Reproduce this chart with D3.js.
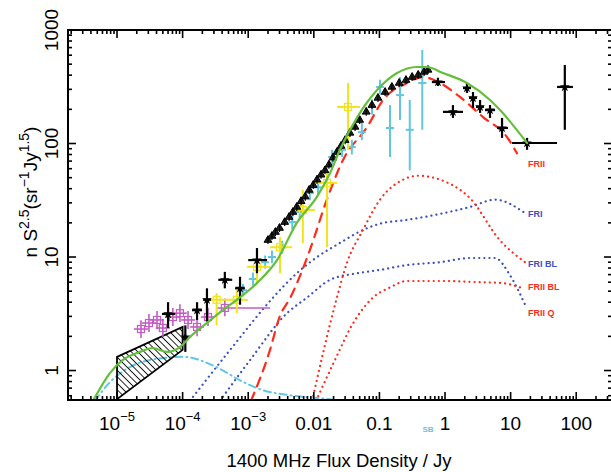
<!DOCTYPE html>
<html><head><meta charset="utf-8">
<script src="https://cdn.jsdelivr.net/npm/d3@7"></script>
<style>
html,body{margin:0;padding:0;background:#fff;}
svg{display:block;font-family:"Liberation Sans",Arial,sans-serif;}
</style></head><body>
<svg id="chart" width="611" height="472"></svg>
<script>
// ---- model curves: [flux density (Jy), n S^2.5] ----
const totalModel = [[4.3e-6,0.54],[7.8e-6,0.95],[1.23e-5,1.24],[2.24e-5,1.46],[3.5e-5,1.58],[5.8e-5,1.46],[9.1e-5,1.61],[1.29e-4,1.97],[2.3e-4,2.6],[4.1e-4,3.4],[6.7e-4,4.2],[1.36e-3,5.9],[2.75e-3,9.4],[5.5e-3,20],[0.0112,34],[0.0177,55],[0.025,88],[0.046,171],[0.092,296],[0.186,418],[0.374,472],[0.53,472],[0.93,418],[2.16,341],[4.85,242],[6.9,197],[17.8,101]];
const fr2Model = [[1.1e-3,0.54],[2.15e-3,1.52],[3.0e-3,2.96],[4.4e-3,4.4],[8.7e-3,11.5],[0.0158,32],[0.028,72],[0.065,140],[0.114,242],[0.263,341],[0.46,385],[0.84,341],[1.69,257],[3.8,171],[8.8,114],[12.5,82]];
const fr1Model = [[1.29e-4,0.54],[5.3e-4,1.52],[2.4e-3,4.4],[5.5e-3,7.2],[0.0112,10],[0.025,13.3],[0.056,17.3],[0.114,20],[0.229,21],[0.84,24],[2.4,27.6],[5.8,32],[16.6,24.4]];
const fr1BLModel = [[9.4e-3,0.54],[0.0225,4.4],[0.032,8.9],[0.056,17.3],[0.102,32],[0.229,48],[0.39,52],[0.84,48],[2.4,33],[6.9,14],[16.6,9.0]];
const fr2BLModel = [[0.0108,0.54],[0.021,1.24],[0.038,2.5],[0.08,4.4],[0.145,5.4],[0.263,6.15],[0.84,6.15],[3.4,6.0],[7.4,5.9],[13.9,5.4]];
const fr2QModel = [[3.7e-4,0.54],[1.07e-3,1.24],[3.9e-3,3.2],[7.9e-3,4.4],[0.0177,6.3],[0.046,7.2],[0.102,7.7],[0.263,8.5],[0.84,9.0],[2.4,9.8],[5.8,9.8],[9.8,6.9],[16.6,3.8]];
const sbModel = [[4.6e-6,0.54],[7.8e-6,0.79],[1.32e-5,1.01],[3.2e-5,1.24],[1.02e-4,1.32],[3.3e-4,1.07],[7.5e-4,0.82],[1.69e-3,0.67],[3.9e-3,0.61],[0.0124,0.57],[0.032,0.54]];

// ---- P(D) constraint region corners ----
const pdRegion = [[1e-5,0.56],[1e-5,1.32],[1e-4,2.42],[1e-4,1.52]];

// ---- measured counts: [S, value, S low, S high, value low, value high] ----
const blackCounts = [
  [6.0e-5,3.15,4.85e-5,7.7e-5,2.37,4.0],
  [1.1e-4,1.97,1.0e-4,1.2e-4,1.46,2.5],
  [1.66e-4,3.4,1.39e-4,1.98e-4,2.79,4.0],
  [2.35e-4,4.2,2.05e-4,2.7e-4,2.7,5.3],
  [4.4e-4,6.3,3.5e-4,5.7e-4,5.3,7.4],
  [7.5e-4,5.3,6.3e-4,8.9e-4,3.8,6.7],
  [1.36e-3,9.4,1.0e-3,1.94e-3,7.2,12],
  [0.78,348,0.63,1.0,321,378],
  [1.32,190,0.93,1.88,168,218],
  [2.16,308,1.88,2.49,279,341],
  [2.67,252,2.32,3.07,206,284],
  [3.42,210,2.97,3.93,186,242],
  [4.85,197,4.07,5.8,168,218],
  [7.4,137,6.2,9.1,112,168],
  [17.8,101,10.5,51,88,112],
  [67,315,51,89,132,492]
];
const triangleCounts = [
  [2.0e-3,14.1],[2.3e-3,15.3],[2.6e-3,16.6],[3.0e-3,18.0],[3.6e-3,20.3],[4.2e-3,22.5],[4.8e-3,24.9],[5.5e-3,27.6],
  [6.4e-3,31],[7.4e-3,34],[8.5e-3,39],[9.8e-3,43],[0.0112,48],[0.0129,53],[0.0148,58],[0.017,65],[0.0196,75],
  [0.0225,84],[0.026,95],[0.030,107],[0.0355,124],[0.0425,140],[0.050,161],[0.063,190],[0.077,218],[0.095,252],
  [0.122,284],[0.155,315],[0.20,341],[0.254,362],[0.315,385],[0.39,402],[0.48,427],[0.55,445]
];
const cyanCounts = [
  [8.3e-4,5.1,7.2e-4,9.6e-4,4.5,5.8],
  [1.18e-3,6.4,1.02e-3,1.36e-3,5.6,7.3],
  [1.81e-3,9.0,1.57e-3,2.08e-3,7.9,10.3],
  [2.3e-3,10,2.0e-3,2.65e-3,8.8,11.4],
  [3.3e-3,12.2,2.87e-3,3.8e-3,10.7,13.9],
  [4.7e-3,20.3,4.1e-3,5.4e-3,17.5,23.5],
  [6.1e-3,24.9,5.3e-3,7.0e-3,21.5,28.8],
  [8.7e-3,36.6,7.6e-3,0.01,31.6,42.4],
  [0.0116,41,0.0101,0.0133,35.4,47.5],
  [0.019,76,0.0165,0.0219,65,88],
  [0.027,88,0.0235,0.031,76,102],
  [0.038,93,0.033,0.0437,80,108],
  [0.054,126,0.047,0.062,107,152],
  [0.077,210,0.067,0.0885,180,245],
  [0.102,315,0.089,0.117,270,365],
  [0.145,137,0.126,0.167,76,218],
  [0.206,267,0.179,0.237,161,385],
  [0.29,132,0.252,0.333,58,242],
  [0.45,341,0.39,0.52,132,667]
];
const yellowCounts = [
  [3.3e-4,4.2,2.2e-4,4.75e-4,2.5,4.8],
  [6.7e-4,4.2,4.75e-4,9.9e-4,3.2,5.1],
  [1.36e-3,8.2,9.6e-4,2.15e-3,5.7,11.5],
  [3.05e-3,12.2,2.15e-3,4.65e-3,7.2,15],
  [6.8e-3,26,4.65e-3,0.0104,13.3,39],
  [0.0159,45,9.7e-3,0.0226,12.2,62],
  [0.0332,210,0.0226,0.0506,88,341]
];
const magentaCounts = [
  [2.32e-5,2.32,1.81e-5,2.97e-5,1.93,2.78],
  [3.07e-5,2.62,2.40e-5,3.93e-5,2.18,3.14],
  [4.07e-5,2.79,3.18e-5,5.2e-5,2.32,3.35],
  [5.0e-5,2.37,3.9e-5,6.4e-5,1.97,2.84],
  [7.1e-5,2.96,5.5e-5,9.1e-5,2.47,3.55],
  [9.1e-5,3.2,7.1e-5,1.16e-4,2.67,3.84],
  [1.21e-4,2.79,9.5e-5,1.55e-4,2.32,3.35],
  [1.66e-4,2.42,1.3e-4,2.12e-4,2.0,2.9],
  [2.44e-4,2.96,1.9e-4,3.1e-4,2.47,3.55],
  [4.4e-4,3.56,3.3e-4,2.15e-3,3.0,4.3]
];

// ---- axis tick labels ----
const xMajor = [1e-5,1e-4,1e-3,0.01,0.1,1,10,100];
const xMajorLabels = [["10","\u22125"],["10","\u22124"],["10","\u22123"],["0.01"],["0.1"],["1"],["10"],["100"]];
const yMajor = [1,10,100,1000];
const yMajorLabels = ["1","10","100","1000"];

// ---- curve labels: text, colour, anchor flux, anchor value ----
const curveLabels = [
  ["FRII","#ff2a1a",17.8,65],
  ["FRI","#3a4fc0",17.8,23.4],
  ["FRI BL","#3a4fc0",17.8,8.5],
  ["FRII BL","#ff2a1a",17.8,5.4],
  ["FRII Q","#ff2a1a",17.8,3.2]
];

const svg = d3.select("#chart");
const box = {left:68, top:30, right:612, bottom:400};
const x = d3.scaleLog().domain([1.79e-6,351]).range([box.left, box.right]);
const y = d3.scaleLog().domain([0.55,1000]).range([box.bottom, box.top]);

svg.append("defs").append("clipPath").attr("id","plotclip")
  .append("rect").attr("x",box.left).attr("y",box.top)
  .attr("width",box.right-box.left).attr("height",box.bottom-box.top);

// back-slash hatching for the constraint region
const hatch = svg.select("defs").append("pattern").attr("id","hatch")
  .attr("patternUnits","userSpaceOnUse").attr("width",4.6).attr("height",4.6)
  .attr("patternTransform","rotate(-45)");
hatch.append("line").attr("x1",0).attr("y1",0).attr("x2",0).attr("y2",4.6)
  .attr("stroke","#000").attr("stroke-width",1.7);

const plot = svg.append("g").attr("clip-path","url(#plotclip)");
const line = d3.line().x(d=>x(d[0])).y(d=>y(d[1])).curve(d3.curveMonotoneX);

function drawCurve(data, color, width, dash) {
  plot.append("path").datum(data).attr("d",line)
    .attr("fill","none").attr("stroke",color).attr("stroke-width",width)
    .attr("stroke-dasharray",dash).attr("stroke-linecap","round");
}
drawCurve(fr1Model,"#3a4fc0",2.2,"0.1 5");
drawCurve(fr2QModel,"#3a4fc0",2.2,"0.1 5");
drawCurve(fr1BLModel,"#ff2a1a",2.2,"0.1 5");
drawCurve(fr2BLModel,"#ff2a1a",2.2,"0.1 5");
drawCurve(sbModel,"#5ec8e2",2,"7 4 1 4");
drawCurve(fr2Model,"#ff2a1a",2.2,"9 7");

// hatched region
plot.append("polygon")
  .attr("points", pdRegion.map(d=>[x(d[0]),y(d[1])].join(",")).join(" "))
  .attr("fill","url(#hatch)").attr("stroke","#000").attr("stroke-width",1.8);

function drawErrors(data, color, width) {
  const g = plot.append("g").attr("stroke",color).attr("stroke-width",width);
  g.selectAll(".h").data(data).join("line")
    .attr("x1",d=>x(d[2])).attr("x2",d=>x(d[3])).attr("y1",d=>y(d[1])).attr("y2",d=>y(d[1]));
  g.selectAll(".v").data(data).join("line")
    .attr("x1",d=>x(d[0])).attr("x2",d=>x(d[0])).attr("y1",d=>y(d[4])).attr("y2",d=>y(d[5]));
  return g;
}
drawErrors(magentaCounts,"#c45cc4",1.6);
plot.append("g").selectAll("rect").data(magentaCounts).join("rect")
  .attr("x",d=>x(d[0])-3.5).attr("y",d=>y(d[1])-3.5).attr("width",7).attr("height",7)
  .attr("fill","none").attr("stroke","#c45cc4").attr("stroke-width",1.2);
drawErrors(cyanCounts,"#62c6e0",2);
drawErrors(yellowCounts,"#f2e41a",2);
plot.append("g").selectAll("rect").data(yellowCounts).join("rect")
  .attr("x",d=>x(d[0])-3.5).attr("y",d=>y(d[1])-3.5).attr("width",7).attr("height",7)
  .attr("fill","none").attr("stroke","#f2e41a").attr("stroke-width",1.2);
drawErrors(blackCounts,"#000",2.2);
plot.append("g").selectAll("path").data(blackCounts).join("path")
  .attr("d",d3.symbol(d3.symbolStar,30))
  .attr("transform",d=>`translate(${x(d[0])},${y(d[1])})`).attr("fill","#000");
plot.append("g").selectAll("path").data(triangleCounts).join("path")
  .attr("d",d3.symbol(d3.symbolTriangle,26))
  .attr("transform",d=>`translate(${x(d[0])},${y(d[1])})`)
  .attr("fill","#222").attr("stroke","#000").attr("stroke-width",1);
plot.append("g").attr("stroke","#000").attr("stroke-width",1.2)
  .selectAll("line").data(triangleCounts).join("line")
  .attr("x1",d=>x(d[0])).attr("x2",d=>x(d[0]))
  .attr("y1",d=>y(d[1])-4).attr("y2",d=>y(d[1])+4);

drawCurve(totalModel,"#63bf3a",2.2,null);

// frame and ticks (all ticks point inward)
svg.append("rect").attr("x",box.left).attr("y",box.top)
  .attr("width",box.right-box.left).attr("height",box.bottom-box.top)
  .attr("fill","none").attr("stroke","#000").attr("stroke-width",2);
const axes = svg.append("g").attr("stroke","#000").attr("stroke-width",1.6);
for (let e=-6; e<=2; e++) for (let m=1; m<=9; m++) {
  const v = m*Math.pow(10,e);
  if (v < x.domain()[0] || v > x.domain()[1]) continue;
  const len = m===1 ? 8 : 4, px = x(v);
  axes.append("line").attr("x1",px).attr("x2",px).attr("y1",box.bottom).attr("y2",box.bottom-len);
  axes.append("line").attr("x1",px).attr("x2",px).attr("y1",box.top).attr("y2",box.top+len);
}
for (let e=-1; e<=3; e++) for (let m=1; m<=9; m++) {
  const v = m*Math.pow(10,e);
  if (v < y.domain()[0] || v > y.domain()[1]) continue;
  const len = m===1 ? 8 : 4, py = y(v);
  axes.append("line").attr("y1",py).attr("y2",py).attr("x1",box.left).attr("x2",box.left+len);
  axes.append("line").attr("y1",py).attr("y2",py).attr("x1",box.right).attr("x2",box.right-len);
}

// x tick labels
xMajor.forEach((v,i)=>{
  const t = svg.append("text").attr("x",x(v)).attr("y",430)
    .attr("text-anchor","middle").attr("font-size",19).attr("fill","#000");
  const lab = xMajorLabels[i];
  t.append("tspan").text(lab[0]);
  if (lab[1]) t.append("tspan").attr("dy",-9).attr("font-size",13).text(lab[1]);
});
// y tick labels (rotated)
yMajor.forEach((v,i)=>{
  svg.append("text").attr("transform",`translate(58,${y(v)}) rotate(-90)`)
    .attr("text-anchor","middle").attr("font-size",19).attr("fill","#000").text(yMajorLabels[i]);
});
// axis titles
svg.append("text").attr("x",339).attr("y",467).attr("text-anchor","middle")
  .attr("font-size",18.5).attr("fill","#000").text("1400 MHz Flux Density / Jy");
const yt = svg.append("text").attr("transform","translate(37,192) rotate(-90)")
  .attr("text-anchor","middle").attr("font-size",19).attr("fill","#000");
yt.append("tspan").text("n S");
yt.append("tspan").attr("dy",-8).attr("font-size",14).text("2.5");
yt.append("tspan").attr("dy",8).text("(sr");
yt.append("tspan").attr("dy",-8).attr("font-size",14).text("\u22121");
yt.append("tspan").attr("dy",8).text("Jy");
yt.append("tspan").attr("dy",-8).attr("font-size",14).text("1.5");
yt.append("tspan").attr("dy",8).text(")");

// curve labels
curveLabels.forEach(d=>{
  svg.append("text").attr("x",x(d[2])+1).attr("y",y(d[3]))
    .attr("dominant-baseline","middle").attr("font-size",9).attr("font-weight","bold")
    .attr("fill",d[1]).text(d[0]);
});
svg.append("text").attr("x",x(0.55)).attr("y",432).attr("text-anchor","middle")
  .attr("font-size",8).attr("font-weight","bold").attr("fill","#62c6e0").text("SB");
</script></body></html>
